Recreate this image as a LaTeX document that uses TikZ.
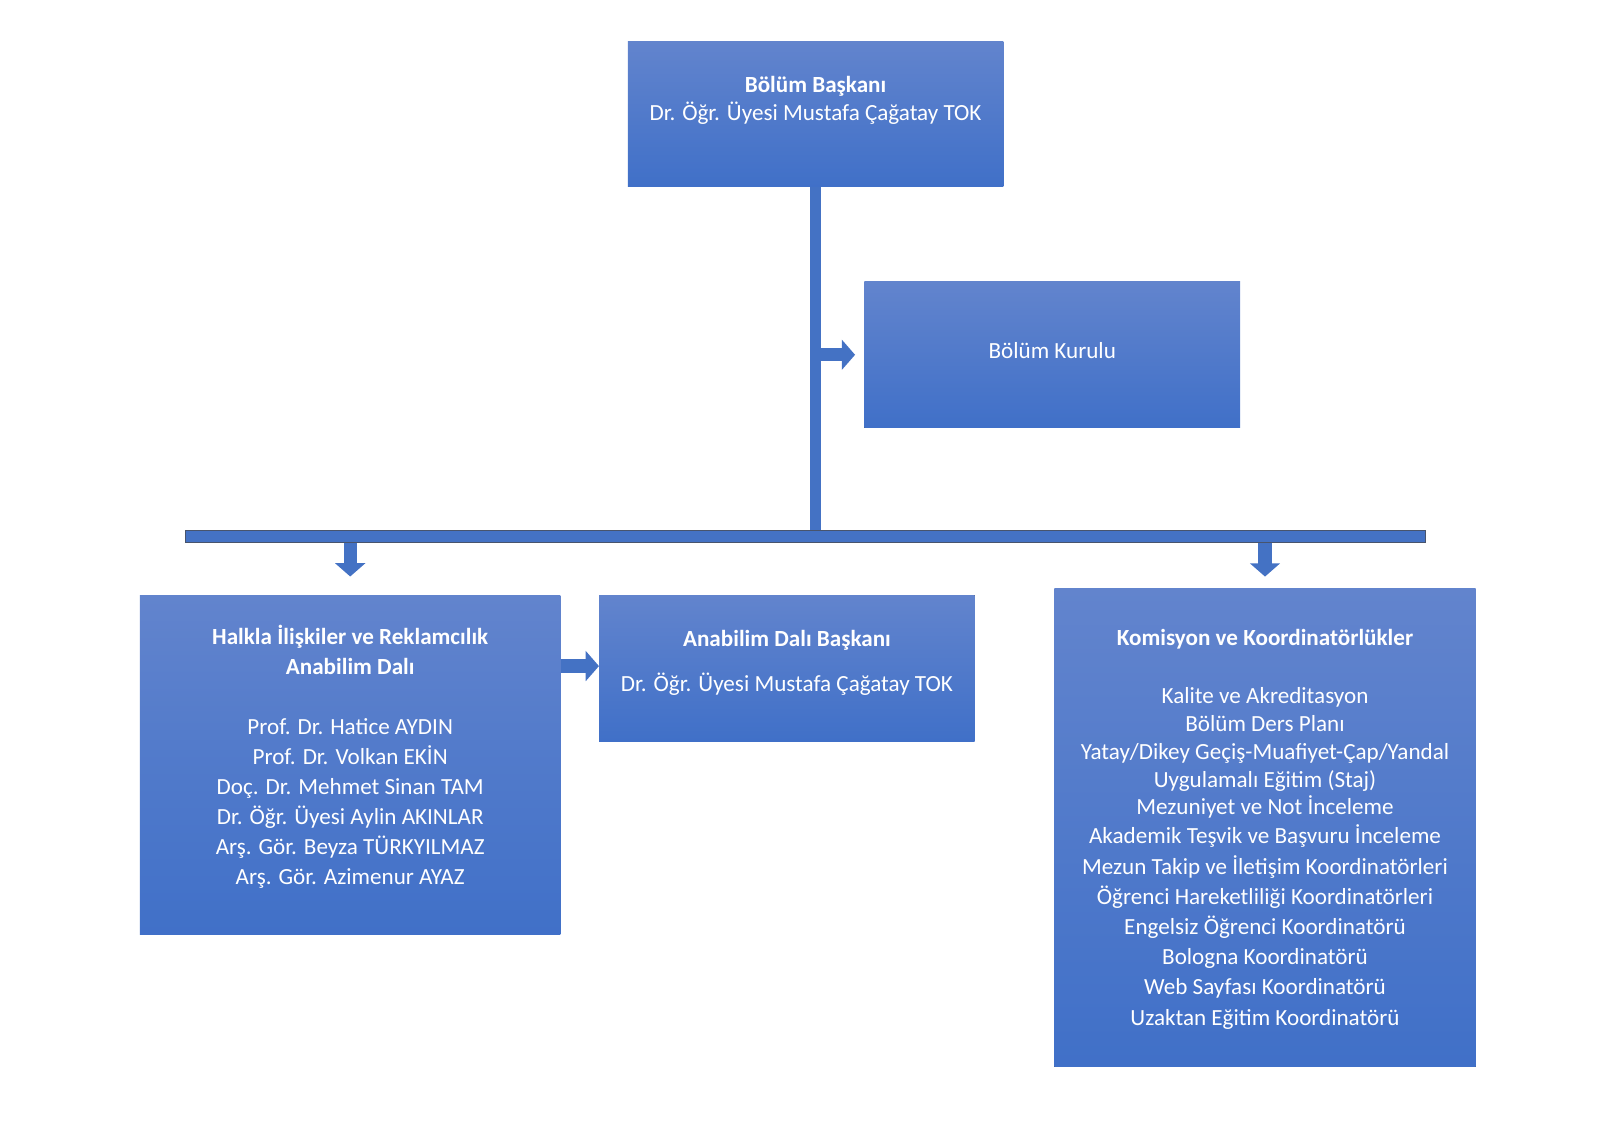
\documentclass[tikz,border=0pt]{standalone}
\usepackage{fontspec}
\setmainfont{Carlito}
\usetikzlibrary{positioning,shadows,arrows.meta}

\definecolor{boxtop}{RGB}{98,132,205}
\definecolor{boxbot}{RGB}{64,112,200}
\definecolor{barblue}{RGB}{68,114,196}
\definecolor{baredge}{RGB}{72,84,108}

\newdimen\pxu
\pxu=1.0204bp

\tikzset{
  orgbox/.style={rectangle, anchor=north west, inner sep=0pt,
    top color=boxtop, bottom color=boxbot,
    general shadow={fill=black!65, shift={(0pt,-2pt)}}},
  orgtext/.style={text=white, align=center, inner sep=0pt},
  flow/.style={draw=barblue, line width=13.3bp, -{Triangle[width=29.6bp,length=13.3bp]}},
  trunk/.style={draw=baredge, line width=0.8bp, double=barblue, double distance=10.2bp}
}

\begin{document}
\begin{tikzpicture}[x=\pxu, y=-\pxu]
        \useasboundingbox (0,0) rectangle (1568,1108.4);

        % boxes
        \node (baskan) [orgbox, minimum width=368\pxu, minimum height=143\pxu] at (615,40) {};
        \node (kurul) [orgbox, minimum width=368\pxu, minimum height=143\pxu] at (847,276) {};
        \node (anabilim) [orgbox, minimum width=412\pxu, minimum height=333\pxu] at (137,583) {};
        \node (dalbaskan) [orgbox, minimum width=368\pxu, minimum height=143\pxu] at (587,583) {};
        \node (komisyon) [orgbox, minimum width=413\pxu, minimum height=468\pxu] at (1033,577) {};

        % bus and trunk
        \node (bus) [rectangle, anchor=north west, inner sep=0pt, fill=barblue, draw=baredge, line width=0.8bp,
          minimum width=1215\pxu, minimum height=12\pxu] at (181,519) {};
        \draw[trunk] (baskan.south) -- (baskan.south |- bus.north);

        % texts
        \node (baskantext) [orgtext, font=\fontsize{23.2}{28.2}\selectfont] at ([yshift=-58.5\pxu]baskan.north)
          {\textbf{Bölüm Başkanı}\\Dr. Öğr. Üyesi Mustafa Çağatay TOK};
        \node (kurultext) [orgtext, font=\fontsize{23.2}{28.7}\selectfont] at ([yshift=-68\pxu]kurul.north)
          {Bölüm Kurulu};
        \node (anabilimtext) [orgtext, font=\fontsize{23.2}{30.1}\selectfont] at ([yshift=-159\pxu]anabilim.north)
          {\textbf{Halkla İlişkiler ve Reklamcılık}\\\textbf{Anabilim Dalı}\\[30.1bp]
           Prof. Dr. Hatice AYDIN\\Prof. Dr. Volkan EKİN\\Doç. Dr. Mehmet Sinan TAM\\
           Dr. Öğr. Üyesi Aylin AKINLAR\\Arş. Gör. Beyza TÜRKYILMAZ\\Arş. Gör. Azimenur AYAZ};
        \node (dalbaskantext) [orgtext, font=\fontsize{23.2}{28.7}\selectfont] at ([yshift=-67\pxu]dalbaskan.north)
          {\textbf{Anabilim Dalı Başkanı}\\[16.4bp]Dr. Öğr. Üyesi Mustafa Çağatay TOK};
        \node (komisyontext) [orgtext, font=\fontsize{23.2}{27.9}\selectfont] at ([yshift=-235.5\pxu]komisyon.north)
          {\textbf{Komisyon ve Koordinatörlükler}\\[30.5bp]
           Kalite ve Akreditasyon\\Bölüm Ders Planı\\Yatay/Dikey Geçiş-Muafiyet-Çap/Yandal\\
           Uygulamalı Eğitim (Staj)\\Mezuniyet ve Not İnceleme\\[1.2bp]
           Akademik Teşvik ve Başvuru İnceleme\\[2.4bp]Mezun Takip ve İletişim Koordinatörleri\\[2.4bp]
           Öğrenci Hareketliliği Koordinatörleri\\[2.4bp]Engelsiz Öğrenci Koordinatörü\\[2.4bp]
           Bologna Koordinatörü\\[2.4bp]Web Sayfası Koordinatörü\\[2.4bp]Uzaktan Eğitim Koordinatörü};

        % arrows
        \draw[flow, shorten >=9.2bp] ([xshift=5.6bp]baskan.south |- kurul.west) -- (kurul.west);
        \draw[flow, shorten >=18.4bp] (bus.south -| anabilim.north) -- (anabilim.north);
        \draw[flow, shorten >=12.2bp] (bus.south -| komisyon.north) -- (komisyon.north);
        \draw[flow] ([yshift=2bp]anabilim.east |- dalbaskan.west) -- ([yshift=2bp]dalbaskan.west);
    \end{tikzpicture}
\end{document}
